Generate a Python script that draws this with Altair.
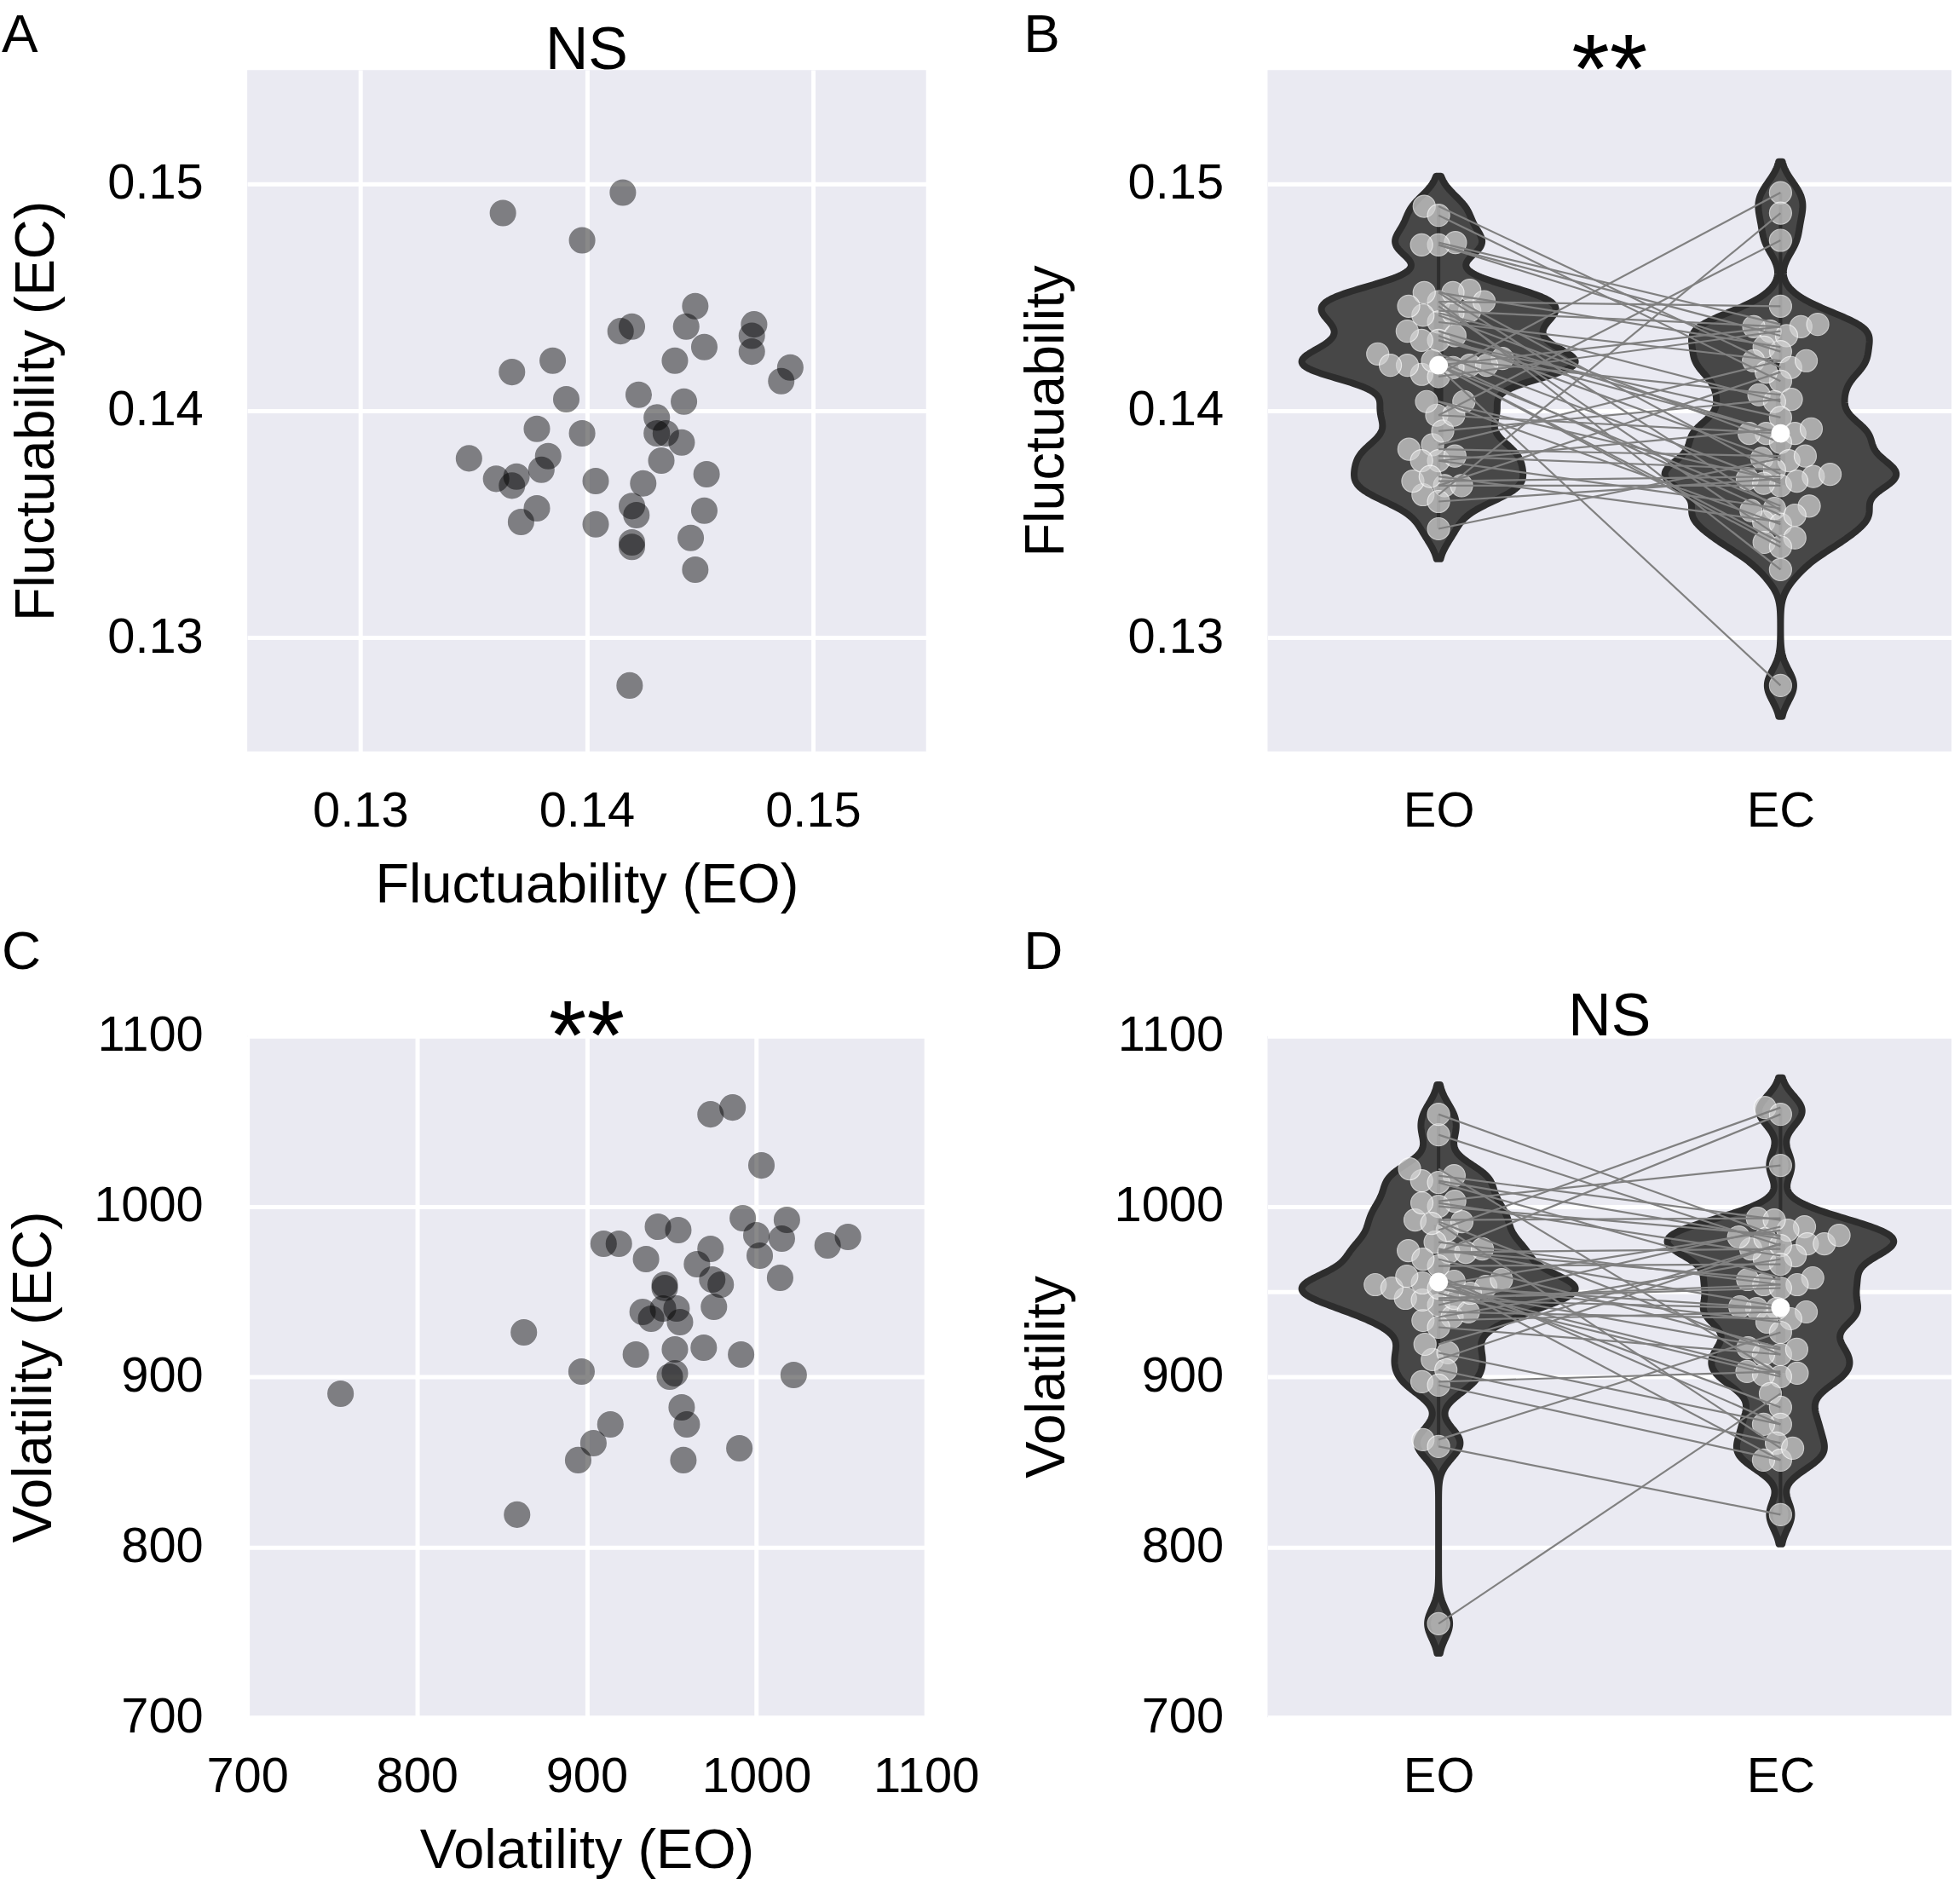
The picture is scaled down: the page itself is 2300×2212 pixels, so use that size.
import math
import numpy as np
import pandas as pd
import altair as alt

FONT = "Liberation Sans"

# ---- data (46 subjects) ----
FLU_EO = [0.1416, 0.1363, 0.1398, 0.1448, 0.1415, 0.1420, 0.1444, 0.1452, 0.1474, 0.1473,
          0.1473, 0.1490, 0.1486, 0.1439, 0.1385, 0.1367, 0.1391, 0.1423, 0.1443, 0.1431,
          0.1431, 0.1435, 0.1442, 0.1433, 0.1378, 0.1398, 0.1348, 0.1383, 0.1380, 0.1360,
          0.1369, 0.1367, 0.1404, 0.1425, 0.1453, 0.1378, 0.1371, 0.1404, 0.1420, 0.1422,
          0.1452, 0.1446, 0.1420, 0.1420, 0.1448, 0.1419]
FLU_EC = [0.1496, 0.1487, 0.1475, 0.1446, 0.1435, 0.1437, 0.1437, 0.1428, 0.1438, 0.1433,
          0.1426, 0.1419, 0.1413, 0.1422, 0.1422, 0.1417, 0.1405, 0.1407, 0.1404, 0.1397,
          0.1390, 0.1390, 0.1386, 0.1378, 0.1392, 0.1390, 0.1379, 0.1380, 0.1374, 0.1370,
          0.1371, 0.1367, 0.1369, 0.1368, 0.1372, 0.1357, 0.1351, 0.1350, 0.1358, 0.1354,
          0.1356, 0.1344, 0.1342, 0.1340, 0.1330, 0.1279]
VOL_EO = [986, 973, 1003, 942, 954, 992, 1018, 910, 919, 935,
          973, 1000, 1015, 1002, 1042, 1054, 965, 974, 979, 1014,
          946, 946, 933, 938, 945, 953, 955, 975, 863, 929,
          952, 969, 991, 897, 952, 949, 1022, 755, 956, 959,
          914, 904, 895, 957, 990, 859]
VOL_EC = [1058, 1054, 1024, 988, 986, 993, 992, 978, 978, 969,
          975, 983, 981, 971, 977, 982, 966, 957, 954, 958,
          954, 952, 938, 934, 940, 940, 932, 941, 926, 913,
          916, 917, 913, 903, 902, 900, 901, 890, 882, 872,
          872, 861, 851, 851, 858, 819]

CONDITIONS = ["EO", "EC"]
FLU_DOMAIN = [0.125, 0.155]
FLU_TICKS = [0.13, 0.14, 0.15]
VOL_DOMAIN = [700, 1100]
VOL_TICKS = [700, 800, 900, 1000, 1100]
VOL_GRID = [700, 800, 900, 950, 1000, 1100]

# ---- style ----
BG = "#EAEAF2"
W_SC, W_VI, H = 799, 805, 802
SWARM_D = 20          # collision diameter of the swarm (px)
VIOLIN_FILL = "#474747"
VIOLIN_EDGE = "#2d2d2d"
ANCHOR_X, ANCHOR_Y = -330, -130   # invisible top-left anchor (px, relative to panel A)


def swarm_offsets(values, px_per_unit, diam):
    order = sorted(range(len(values)), key=lambda i: values[i])
    placed = []
    offs = [0.0] * len(values)
    for i in order:
        y = values[i] * px_per_unit
        neigh = [(py, px) for py, px in placed if abs(py - y) < diam]
        cands = [0.0]
        for py, px in neigh:
            dx = math.sqrt(max(diam * diam - (py - y) ** 2, 0.0))
            cands += [px - dx, px + dx]
        cands.sort(key=lambda c: (abs(c), c))
        for c in cands:
            if all((c - px) ** 2 + (y - py) ** 2 >= diam * diam - 1e-6 for py, px in neigh):
                offs[i] = c
                placed.append((y, c))
                break
    return offs


def annotations(letter, sig, width, letter_x, letter_y):
    lt = alt.Chart(pd.DataFrame({"t": [letter]})).mark_text(
        font=FONT, fontSize=64, align="left", baseline="alphabetic", color="black"
    ).encode(text="t:N", x=alt.value(letter_x), y=alt.value(letter_y))
    if sig == "NS":
        size, yy = 70, -1
    else:
        size, yy = 115, 38
    st = alt.Chart(pd.DataFrame({"t": [sig]})).mark_text(
        font=FONT, fontSize=size, align="center", baseline="alphabetic", color="black"
    ).encode(text="t:N", x=alt.value(width / 2), y=alt.value(yy))
    return [lt, st]


def scatter_panel(eo, ec, domain, ticks, fmt, xtitle, ytitle, letter, sig, letter_y,
                  ytitle_pad, anchor=False):
    df = pd.DataFrame({"eo": eo, "ec": ec})
    sc = alt.Scale(domain=domain, nice=False, zero=False)
    xax = alt.Axis(values=ticks, format=fmt, title=xtitle)
    yax = alt.Axis(values=ticks, format=fmt, title=ytitle, titlePadding=ytitle_pad)
    pts = alt.Chart(df).mark_circle(
        size=880, color="black", opacity=0.46, stroke="black", strokeWidth=1.5
    ).encode(
        x=alt.X("eo:Q", scale=sc, axis=xax),
        y=alt.Y("ec:Q", scale=sc, axis=yax),
    )
    layers = [pts] + annotations(letter, sig, W_SC, -289, letter_y)
    if anchor:
        layers.append(alt.Chart(pd.DataFrame({"a": [0]})).mark_rule(
            opacity=0, strokeWidth=0
        ).encode(x=alt.value(ANCHOR_X), x2=alt.value(ANCHOR_X + 1), y=alt.value(ANCHOR_Y)))
    return alt.layer(*layers).properties(width=W_SC, height=H)


def violin_panel(eo, ec, domain, ticks, grid_vals, fmt, ytitle, letter, sig, letter_y,
                 ytitle_pad, bw_factor=0.165):
    n = len(eo)
    vals = list(eo) + list(ec)
    ppu = H / (domain[1] - domain[0])
    step = W_VI / 2
    off_eo = swarm_offsets(list(eo), ppu, SWARM_D)
    off_ec = swarm_offsets(list(ec), ppu, SWARM_D)
    df = pd.DataFrame({
        "subj": list(range(n)) * 2,
        "cond": [CONDITIONS[0]] * n + [CONDITIONS[1]] * n,
        "idx": [0] * n + [1] * n,
        "value": vals,
        "sx": [o / step for o in off_eo] + [1 + o / step for o in off_ec],
    })
    bw = bw_factor * float(np.std(vals, ddof=1))
    cut = 2 * bw
    ext = [min(vals) - cut, max(vals) + cut]

    xsc = alt.Scale(domain=[-0.5, 1.5], nice=False, zero=False)
    ysc = alt.Scale(domain=domain, nice=False, zero=False)
    xax = alt.Axis(values=[0, 1], labelExpr="datum.value == 0 ? 'EO' : 'EC'",
                   grid=False, title=None)
    yax = alt.Axis(values=grid_vals, format=fmt, title=ytitle, titlePadding=ytitle_pad,
                   labelExpr="indexof(%s, datum.value) >= 0 ? datum.label : ''" % str(ticks))

    violin = alt.Chart(df).transform_joinaggregate(
        vmin="min(value)", vmax="max(value)", groupby=["cond"]
    ).transform_density(
        "value", as_=["value", "density"], groupby=["cond", "idx", "vmin", "vmax"],
        bandwidth=bw, extent=ext, steps=500
    ).transform_filter(
        "datum.value >= datum.vmin - %r && datum.value <= datum.vmax + %r" % (cut, cut)
    ).transform_joinaggregate(
        dmax="max(density)"
    ).transform_calculate(
        xl="datum.idx - 0.4 * datum.density / datum.dmax",
        xr="datum.idx + 0.4 * datum.density / datum.dmax",
    ).mark_area(
        orient="horizontal", fill=VIOLIN_FILL, stroke=VIOLIN_EDGE, strokeWidth=8,
        strokeJoin="round"
    ).encode(
        y=alt.Y("value:Q", scale=ysc, axis=yax),
        x=alt.X("xl:Q", scale=xsc, axis=xax),
        x2="xr:Q",
        detail="cond:N",
    )

    box_base = alt.Chart(df).transform_joinaggregate(
        q1="q1(value)", q3="q3(value)", med="median(value)", groupby=["cond"]
    ).transform_filter(
        "datum.value >= datum.q1 - 1.5*(datum.q3 - datum.q1) && "
        "datum.value <= datum.q3 + 1.5*(datum.q3 - datum.q1)"
    ).transform_aggregate(
        lo="min(value)", hi="max(value)", bq1="min(q1)", bq3="min(q3)", bmed="min(med)",
        groupby=["cond", "idx"]
    )
    whisk = box_base.mark_rule(color=VIOLIN_EDGE, strokeWidth=4).encode(
        x=alt.X("idx:Q", scale=xsc, axis=xax),
        y=alt.Y("lo:Q", scale=ysc, axis=yax), y2="hi:Q")
    boxr = box_base.mark_rule(color=VIOLIN_EDGE, strokeWidth=11).encode(
        x=alt.X("idx:Q", scale=xsc, axis=xax),
        y=alt.Y("bq1:Q", scale=ysc, axis=yax), y2="bq3:Q")
    med = box_base.mark_circle(color="white", opacity=1, size=480).encode(
        x=alt.X("idx:Q", scale=xsc, axis=xax),
        y=alt.Y("bmed:Q", scale=ysc, axis=yax))

    pts = alt.Chart(df).mark_circle(
        size=680, color="#d6d6d6", opacity=0.7, stroke="white", strokeWidth=1.2
    ).encode(
        x=alt.X("sx:Q", scale=xsc, axis=xax),
        y=alt.Y("value:Q", scale=ysc, axis=yax))

    lines = alt.Chart(df).mark_line(color="#808080", strokeWidth=2.2).encode(
        x=alt.X("idx:Q", scale=xsc, axis=xax),
        y=alt.Y("value:Q", scale=ysc, axis=yax),
        detail="subj:N")

    return alt.layer(violin, whisk, boxr, pts, lines, med,
                     *annotations(letter, sig, W_VI, -287, letter_y)).properties(
        width=W_VI, height=H)


A = scatter_panel(FLU_EO, FLU_EC, FLU_DOMAIN, FLU_TICKS, ".2f",
                  "Fluctuability (EO)", "Fluctuability (EC)", "A", "NS", -21, 49,
                  anchor=True)
B = violin_panel(FLU_EO, FLU_EC, FLU_DOMAIN, FLU_TICKS, FLU_TICKS, ".2f",
                 "Fluctuability", "B", "**", -21, 62)
C = scatter_panel(VOL_EO, VOL_EC, VOL_DOMAIN, VOL_TICKS, "d",
                  "Volatility (EO)", "Volatility (EC)", "C", "**", -79, 36)
D = violin_panel(VOL_EO, VOL_EC, VOL_DOMAIN, VOL_TICKS, VOL_GRID, "d",
                 "Volatility", "D", "NS", -79, 45)

chart = alt.concat(
    A, B, C, D, columns=2, spacing={"row": 335, "column": 402}, bounds="flush",
    padding={"left": 291 + ANCHOR_X, "top": 79 + ANCHOR_Y, "right": 10, "bottom": 10},
).configure(font=FONT).configure_view(
    fill=BG, strokeWidth=0
).configure_axis(
    labelFont=FONT, labelFontSize=58, labelColor="black", labelFlush=False,
    titleFont=FONT, titleFontSize=65, titleFontWeight="normal", titleColor="black",
    domain=False, ticks=False, tickSize=0,
    gridColor="white", gridWidth=5, gridOpacity=1,
).configure_axisX(
    labelPadding=42, titlePadding=26
).configure_axisY(
    labelPadding=52
)

chart.save("out.html", embed_options={"renderer": "svg", "actions": False})
